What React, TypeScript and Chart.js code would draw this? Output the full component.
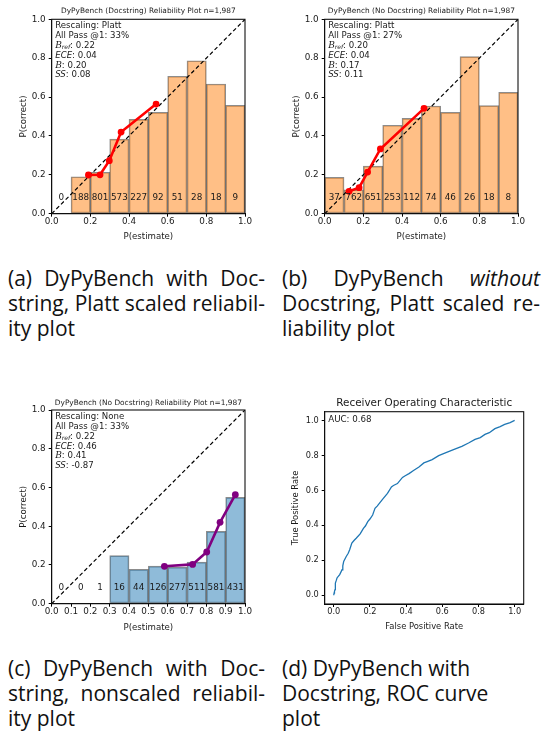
import React, { useEffect, useRef } from "react";
import { Chart, registerables } from "chart.js";

Chart.register(...registerables);

// ---------------- data ----------------
const BIN_CENTERS = [0.05, 0.15, 0.25, 0.35, 0.45, 0.55, 0.65, 0.75, 0.85, 0.95];
const PROB_TICKS = [0, 0.2, 0.4, 0.6, 0.8, 1.0];
const PROB_TICKS_FINE = [0, 0.1, 0.2, 0.3, 0.4, 0.5, 0.6, 0.7, 0.8, 0.9, 1.0];
const DIAGONAL = [0, 1];

const A_ACCURACY = [null, 0.19, 0.213, 0.384, 0.485, 0.521, 0.707, 0.787, 0.667, 0.557];
const A_COUNTS = ["0", "188", "801", "573", "227", "92", "51", "28", "18", "9"];
const A_CURVE_X = [0.19, 0.25, 0.298, 0.359, 0.54];
const A_CURVE_Y = [0.199, 0.2, 0.273, 0.42, 0.564];
const A_STATS = ["Platt", "33%", "0.22", "0.04", "0.20", "0.08"];

const B_ACCURACY = [0.187, 0.123, 0.245, 0.455, 0.49, 0.554, 0.521, 0.808, 0.556, 0.624];
const B_COUNTS = ["37", "762", "651", "253", "112", "74", "46", "26", "18", "8"];
const B_CURVE_X = [0.126, 0.178, 0.222, 0.288, 0.514];
const B_CURVE_Y = [0.115, 0.134, 0.214, 0.333, 0.542];
const B_STATS = ["Platt", "27%", "0.20", "0.04", "0.17", "0.11"];

const C_ACCURACY = [null, null, null, 0.248, 0.177, 0.194, 0.189, 0.215, 0.373, 0.549];
const C_COUNTS = ["0", "0", "1", "16", "44", "126", "277", "511", "581", "431"];
const C_CURVE_X = [0.583, 0.729, 0.802, 0.871, 0.95];
const C_CURVE_Y = [0.193, 0.203, 0.267, 0.42, 0.563];
const C_STATS = ["None", "33%", "0.22", "0.46", "0.41", "-0.87"];

const ROC_FPR = [0, 0.002, 0.004, 0.007, 0.009, 0.014, 0.018, 0.025, 0.033, 0.046, 0.05, 0.055, 0.069, 0.08, 0.088, 0.1, 0.112, 0.124, 0.146, 0.164, 0.175, 0.188, 0.2, 0.215, 0.222, 0.228, 0.24, 0.252, 0.274, 0.297, 0.319, 0.33, 0.352, 0.38, 0.395, 0.416, 0.443, 0.471, 0.498, 0.52, 0.544, 0.58, 0.617, 0.662, 0.708, 0.745, 0.781, 0.81, 0.836, 0.86, 0.891, 0.92, 0.945, 0.975, 1.0];
const ROC_TPR = [0, 0.013, 0.022, 0.032, 0.07, 0.085, 0.099, 0.108, 0.118, 0.146, 0.168, 0.194, 0.222, 0.24, 0.26, 0.298, 0.313, 0.326, 0.351, 0.383, 0.396, 0.421, 0.436, 0.459, 0.48, 0.497, 0.51, 0.526, 0.554, 0.583, 0.62, 0.628, 0.639, 0.674, 0.684, 0.696, 0.715, 0.734, 0.757, 0.766, 0.776, 0.799, 0.814, 0.833, 0.852, 0.871, 0.892, 0.902, 0.92, 0.93, 0.953, 0.965, 0.977, 0.988, 1.0];
const ROC_TICKS = [0, 0.2, 0.4, 0.6, 0.8, 1.0];
const ROC_AUC = "0.68";

// ---------------- styling ----------------
const FONT = '"DejaVu Sans", sans-serif';
const TEXT = "#1a1a1a";

type Geo = {
  left: number; top: number; w: number; h: number;
  yAxisW: number; padRight: number; titleCenter: number; plotTop: number; plotBottom: number;
  titleSize: number; tickSize: number; labelSize: number;
  yTitleX: number; xTitleY: number;
};

type RelPanel = {
  title: string;
  acc: (number | null)[];
  counts: string[];
  cx: number[];
  cy: number[];
  stats: string[];
  barColor: string;
  lineColor: string;
  xTicks: number[];
  geo: Geo;
};

function titleOpts(g: Geo, text: string) {
  const lh = g.titleSize * 1.2;
  const pt = g.titleCenter - lh / 2;
  const pb = g.plotTop - lh - pt;
  return {
    display: true,
    text,
    fullSize: false,
    color: TEXT,
    font: { family: FONT, size: g.titleSize, weight: "normal" as const, lineHeight: 1.2 },
    padding: { top: pt, bottom: pb },
  };
}

function axisCommon(g: Geo, ticks: number[], isX: boolean, titleText: string) {
  const lh = g.labelSize * 1.2;
  return {
    type: "linear" as const,
    offset: false,
    afterBuildTicks: (s: any) => {
      s.ticks = ticks.map((v) => ({ value: v }));
    },
    afterFit: (s: any) => {
      if (isX) s.height = g.h - g.plotBottom;
      else s.width = g.yAxisW;
      s.paddingLeft = 0;
      s.paddingRight = 0;
      s.paddingTop = 0;
      s.paddingBottom = 0;
    },
    ticks: {
      color: TEXT,
      font: { family: FONT, size: g.tickSize },
      padding: isX ? 0 : 3,
      autoSkip: false,
      maxRotation: 0,
      minRotation: 0,
      callback: (v: any) => Number(v).toFixed(1),
    },
    grid: {
      display: true,
      drawOnChartArea: false,
      drawTicks: true,
      tickLength: 3,
      color: "#000",
      offset: false,
    },
    border: { display: true, color: "#000", width: 1 },
    title: {
      display: true,
      text: titleText,
      color: TEXT,
      font: { family: FONT, size: g.labelSize, lineHeight: 1.2 },
      padding: isX
        ? { top: 0, bottom: g.h - g.xTitleY - lh / 2 }
        : { top: g.yTitleX - lh / 2, bottom: 0 },
    },
  };
}

type Seg = { t: string; f?: string; dy?: number };

function drawRich(ctx: CanvasRenderingContext2D, x: number, y: number, segs: Seg[], base: string) {
  let cx = x;
  for (const s of segs) {
    ctx.font = s.f || base;
    ctx.fillText(s.t, cx, y + (s.dy || 0));
    cx += ctx.measureText(s.t).width;
  }
}

function reliabilityConfig(p: RelPanel): any {
  const g = p.geo;
  const infoSize = 8.6;
  const REG = `${infoSize}px ${FONT}`;
  const IT = `italic ${infoSize}px ${FONT}`;
  const CAL = `italic ${infoSize + 0.4}px "DejaVu Serif", serif`;
  const SUB = `italic ${infoSize * 0.7}px ${FONT}`;
  const lines: Seg[][] = [
    [{ t: `Rescaling: ${p.stats[0]}` }],
    [{ t: `All Pass @1: ${p.stats[1]}` }],
    [{ t: "B", f: CAL }, { t: "ref", f: SUB, dy: 2 }, { t: `: ${p.stats[2]}` }],
    [{ t: "ECE", f: IT }, { t: `: ${p.stats[3]}` }],
    [{ t: "B", f: CAL }, { t: `: ${p.stats[4]}` }],
    [{ t: "SS", f: IT }, { t: `: ${p.stats[5]}` }],
  ];
  const deco = {
    id: "deco",
    afterDraw(chart: any) {
      const { ctx, chartArea: ca, scales } = chart;
      const xs = scales.x;
      const ys = scales.y;
      ctx.save();
      ctx.fillStyle = TEXT;
      ctx.textBaseline = "middle";
      ctx.textAlign = "center";
      ctx.font = `${g.tickSize}px ${FONT}`;
      p.counts.forEach((c, i) => {
        ctx.fillText(c, xs.getPixelForValue(BIN_CENTERS[i]), ys.getPixelForValue(0.082));
      });
      ctx.textAlign = "left";
      lines.forEach((segs, i) => {
        drawRich(ctx, ca.left + 3.5, ca.top + 6.9 + i * 9.8, segs, REG);
      });
      ctx.strokeStyle = "#111";
      ctx.lineWidth = 1.1;
      ctx.strokeRect(ca.left, ca.top, ca.right - ca.left, ca.bottom - ca.top);
      ctx.restore();
    },
  };
  return {
    type: "bar",
    data: {
      datasets: [
        {
          type: "line",
          data: p.cx.map((x, i) => ({ x, y: p.cy[i] })),
          borderColor: p.lineColor,
          backgroundColor: p.lineColor,
          pointBackgroundColor: p.lineColor,
          borderWidth: 2.6,
          pointRadius: 3.4,
          pointBorderWidth: 0,
          tension: 0,
          order: 1,
        },
        {
          type: "line",
          data: DIAGONAL.map((x) => ({ x, y: x })),
          borderColor: "#000",
          borderWidth: 1.2,
          borderDash: [4, 2.6],
          pointRadius: 0,
          order: 2,
        },
        {
          type: "bar",
          data: BIN_CENTERS.map((x, i) => ({ x, y: p.acc[i] })),
          backgroundColor: p.barColor,
          borderColor: "rgba(0,0,0,0.45)",
          borderWidth: 1,
          borderSkipped: false,
          barPercentage: 1,
          categoryPercentage: 1,
          order: 3,
        },
      ],
    },
    options: {
      responsive: true,
      maintainAspectRatio: false,
      animation: false,
      events: [],
      layout: { padding: { left: 0, right: g.padRight, top: 0, bottom: 0 } },
      plugins: {
        legend: { display: false },
        tooltip: { enabled: false },
        title: titleOpts(g, p.title),
      },
      scales: {
        x: { ...axisCommon(g, p.xTicks, true, "P(estimate)"), min: 0, max: 1 },
        y: { ...axisCommon(g, PROB_TICKS, false, "P(correct)"), min: 0, max: 1 },
      },
    },
    plugins: [deco],
  };
}

function rocConfig(g: Geo): any {
  const deco = {
    id: "deco",
    afterDraw(chart: any) {
      const { ctx, chartArea: ca } = chart;
      ctx.save();
      ctx.fillStyle = TEXT;
      ctx.textBaseline = "middle";
      ctx.textAlign = "left";
      ctx.font = `8.7px ${FONT}`;
      ctx.fillText(`AUC: ${ROC_AUC}`, ca.left + 3.5, ca.top + 7.6);
      ctx.strokeStyle = "#111";
      ctx.lineWidth = 1.1;
      ctx.strokeRect(ca.left, ca.top, ca.right - ca.left, ca.bottom - ca.top);
      ctx.restore();
    },
  };
  return {
    type: "line",
    data: {
      datasets: [
        {
          data: ROC_FPR.map((x, i) => ({ x, y: ROC_TPR[i] })),
          borderColor: "#1f77b4",
          borderWidth: 1.3,
          pointRadius: 0,
          tension: 0,
        },
      ],
    },
    options: {
      responsive: true,
      maintainAspectRatio: false,
      animation: false,
      events: [],
      layout: { padding: { left: 0, right: g.padRight, top: 0, bottom: 0 } },
      plugins: {
        legend: { display: false },
        tooltip: { enabled: false },
        title: titleOpts(g, "Receiver Operating Characteristic"),
      },
      scales: {
        x: { ...axisCommon(g, ROC_TICKS, true, "False Positive Rate"), min: -0.05, max: 1.05 },
        y: { ...axisCommon(g, ROC_TICKS, false, "True Positive Rate"), min: -0.05, max: 1.05 },
      },
    },
    plugins: [deco],
  };
}

const GEO_A: Geo = { left: 0, top: 0, w: 273, h: 250, yAxisW: 51.7, padRight: 28, titleCenter: 11, plotTop: 19.3, plotBottom: 213.7, titleSize: 7.4, tickSize: 8.8, labelSize: 8.6, yTitleX: 23.3, xTitleY: 236.7 };
const GEO_B: Geo = { left: 273, top: 0, w: 275, h: 250, yAxisW: 51.7, padRight: 30, titleCenter: 11, plotTop: 19.3, plotBottom: 213.7, titleSize: 7.4, tickSize: 8.8, labelSize: 8.6, yTitleX: 23.3, xTitleY: 236.7 };
const GEO_C: Geo = { left: 0, top: 390, w: 273, h: 250, yAxisW: 51.7, padRight: 28, titleCenter: 12.7, plotTop: 20, plotBottom: 213.7, titleSize: 7.4, tickSize: 8.8, labelSize: 8.6, yTitleX: 23.3, xTitleY: 237.3 };
const GEO_D: Geo = { left: 273, top: 390, w: 275, h: 250, yAxisW: 51.7, padRight: 24.3, titleCenter: 13, plotTop: 21.7, plotBottom: 214, titleSize: 10.4, tickSize: 8.2, labelSize: 8.4, yTitleX: 22.7, xTitleY: 237.3 };

const PANELS: RelPanel[] = [
  { title: "DyPyBench (Docstring) Reliability Plot n=1,987", acc: A_ACCURACY, counts: A_COUNTS, cx: A_CURVE_X, cy: A_CURVE_Y, stats: A_STATS, barColor: "rgba(255,127,14,0.5)", lineColor: "#ff0000", xTicks: PROB_TICKS, geo: GEO_A },
  { title: "DyPyBench (No Docstring) Reliability Plot n=1,987", acc: B_ACCURACY, counts: B_COUNTS, cx: B_CURVE_X, cy: B_CURVE_Y, stats: B_STATS, barColor: "rgba(255,127,14,0.5)", lineColor: "#ff0000", xTicks: PROB_TICKS, geo: GEO_B },
  { title: "DyPyBench (No Docstring) Reliability Plot n=1,987", acc: C_ACCURACY, counts: C_COUNTS, cx: C_CURVE_X, cy: C_CURVE_Y, stats: C_STATS, barColor: "rgba(31,119,180,0.5)", lineColor: "#800080", xTicks: PROB_TICKS_FINE, geo: GEO_C },
];

function ChartBox({ geo, makeConfig }: { geo: Geo; makeConfig: () => any }) {
  const ref = useRef<HTMLCanvasElement | null>(null);
  useEffect(() => {
    if (!ref.current) return;
    const chart = new Chart(ref.current, makeConfig());
    return () => chart.destroy();
  }, []);
  return (
    <div style={{ position: "absolute", left: geo.left, top: geo.top, width: geo.w, height: geo.h }}>
      <canvas ref={ref} />
    </div>
  );
}

const CAP_FONT = '"Open Sans", sans-serif';

function Caption({ left, top, width, lines }: { left: number; top: number; width: number; lines: { words: string[]; justify: boolean }[] }) {
  return (
    <div style={{ position: "absolute", left, top, width, fontFamily: CAP_FONT, fontSize: 21, color: "#111" }}>
      {lines.map((ln, i) => (
        <div
          key={i}
          style={{
            height: 25,
            lineHeight: "25px",
            whiteSpace: "nowrap",
            display: "flex",
            justifyContent: ln.justify ? "space-between" : "flex-start",
          }}
        >
          {ln.words.map((w, j) => (
            <span key={j} style={{ fontStyle: w.startsWith("_") ? "italic" : "normal", marginRight: ln.justify ? 0 : "0.26em" }}>
              {w.replace(/^_/, "")}
            </span>
          ))}
        </div>
      ))}
    </div>
  );
}

export default function App() {
  return (
    <div style={{ position: "absolute", left: 0, top: 0, width: 548, height: 745, background: "#fff" }}>
      {PANELS.map((p, i) => (
        <ChartBox key={i} geo={p.geo} makeConfig={() => reliabilityConfig(p)} />
      ))}
      <ChartBox geo={GEO_D} makeConfig={() => rocConfig(GEO_D)} />
      <Caption
        left={8}
        top={265.5}
        width={257}
        lines={[
          { words: ["(a)", "DyPyBench", "with", "Doc-"], justify: true },
          { words: ["string,", "Platt", "scaled", "reliabil-"], justify: true },
          { words: ["ity", "plot"], justify: false },
        ]}
      />
      <Caption
        left={282}
        top={265.5}
        width={258}
        lines={[
          { words: ["(b)", "DyPyBench", "_without"], justify: true },
          { words: ["Docstring,", "Platt", "scaled", "re-"], justify: true },
          { words: ["liability", "plot"], justify: false },
        ]}
      />
      <Caption
        left={8}
        top={655.5}
        width={257}
        lines={[
          { words: ["(c)", "DyPyBench", "with", "Doc-"], justify: true },
          { words: ["string,", "nonscaled", "reliabil-"], justify: true },
          { words: ["ity", "plot"], justify: false },
        ]}
      />
      <Caption
        left={282}
        top={655.5}
        width={258}
        lines={[
          { words: ["(d)", "DyPyBench", "with"], justify: false },
          { words: ["Docstring,", "ROC", "curve"], justify: false },
          { words: ["plot"], justify: false },
        ]}
      />
    </div>
  );
}
